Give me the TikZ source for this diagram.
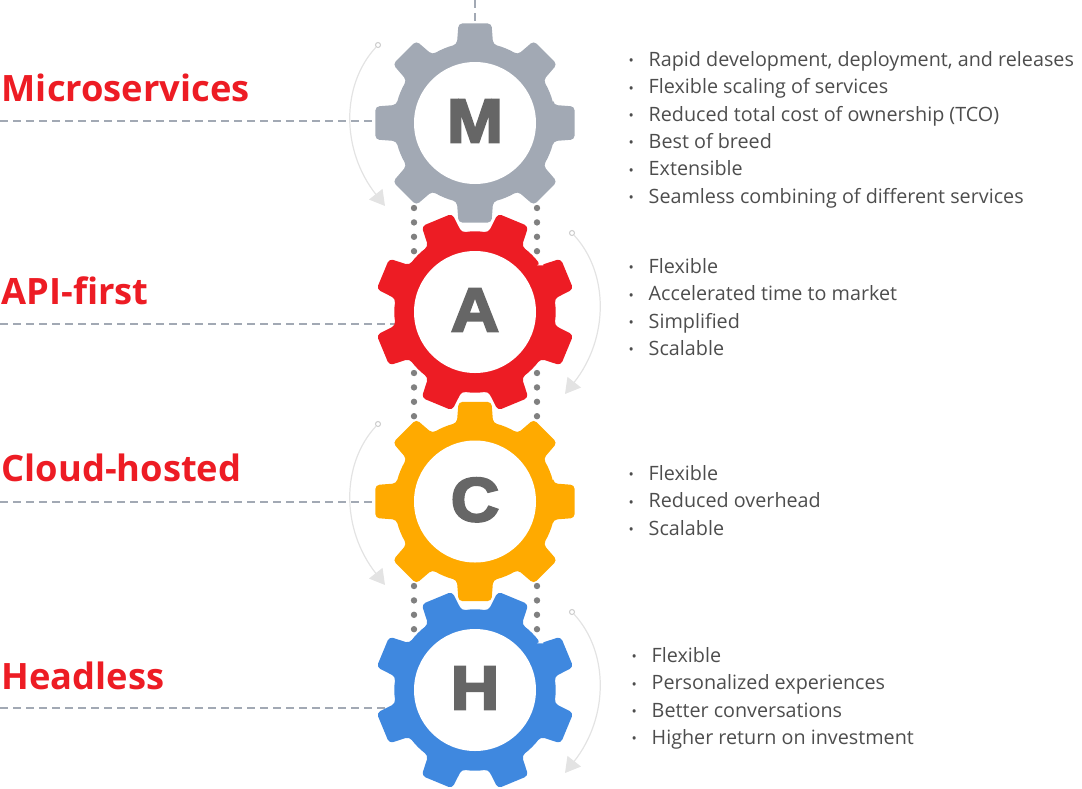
\documentclass[tikz,border=0pt]{standalone}
\usepackage{fontspec}
\usetikzlibrary{arrows.meta}
\setmainfont{Open Sans}
\newfontfamily\lettfont[FakeBold=3.6, FakeStretch=1.08]{Liberation Sans Bold}
\definecolor{gearM}{HTML}{A2A9B4}
\definecolor{gearA}{HTML}{ED1C24}
\definecolor{gearC}{HTML}{FFAA00}
\definecolor{gearH}{HTML}{3F88DF}
\definecolor{textgray}{HTML}{4D4D4D}
\newcommand{\bul}{\makebox[20pt][l]{\raisebox{0.5pt}{\fontsize{14}{14}\selectfont\textbullet}}}
\newcommand{\gear}[5]{
	\fill[#4, rounded corners=4pt, shift={#2}, rotate=#3] (-13:80.5)
		\foreach \a in {0,45,...,315} {
			-- (\a-9.4:101) -- (\a+9.4:101) -- (\a+13:80.5)
			arc[start angle=\a+13, end angle=\a+32, radius=80.5]
		} -- cycle;
	\node[hole] (#1) at #2 {\raisebox{4pt}{#5}};
}
\begin{document}
\begin{tikzpicture}[x=1pt, y=-1pt,
	hole/.style={circle, fill=white, minimum size=122pt, inner sep=0pt,
		text=black!60, font=\lettfont\fontsize{62}{62}\selectfont},
	title/.style={anchor=west, inner sep=0pt, text=gearA,
		font=\bfseries\fontsize{36.3}{36.3}\selectfont},
	items/.style={anchor=north west, inner sep=0pt, align=left, text=textgray,
		font=\fontsize{19.75}{27.4}\selectfont},
	dashline/.style={draw=gearM, line width=1.2pt, dash pattern=on 8pt off 5pt},
	dotline/.style={draw=black!50, line width=6.4pt, line cap=round, dash pattern=on 0pt off 14.4pt},
	turn/.style={draw=black!11, line width=1.2pt, -{Triangle[length=15pt, width=17pt]}},
	start/.style={circle, draw=black!20, fill=white, line width=1pt, minimum size=5pt, inner sep=0pt}]
	\useasboundingbox (0,0) rectangle (1082,788);

	\coordinate (topM) at (475,0);
	\coordinate (topMend) at (475,25);
	\coordinate (leftM) at (0,121);
	\coordinate (leftMend) at (380,121);
	\coordinate (leftA) at (0,324);
	\coordinate (leftAend) at (395,324);
	\coordinate (leftC) at (0,502);
	\coordinate (leftCend) at (378,502);
	\coordinate (leftH) at (0,708);
	\coordinate (leftHend) at (387,708);
	\draw[dashline] (topM) -- (topMend);
	\draw[dashline] (leftM) -- (leftMend);
	\draw[dashline] (leftA) -- (leftAend);
	\draw[dashline] (leftC) -- (leftCend);
	\draw[dashline] (leftH) -- (leftHend);

	\foreach \y in {208,373,586}
		\foreach \x in {414,537}
			\draw[dotline] (\x,\y) -- ++(0,44);

	\gear{letterM}{(475,123)}{0}{gearM}{M}
	\gear{letterA}{(475,312)}{22.5}{gearA}{A}
	\gear{letterC}{(475,501.5)}{0}{gearC}{C}
	\gear{letterH}{(475,690)}{22.5}{gearH}{H}

	\node[title] (titleM) at (1.5,88) {Microservices};
	\node[title] (titleA) at (1.5,291) {API-first};
	\node[title] (titleC) at (1.5,468) {Cloud-hosted};
	\node[title] (titleH) at (1.5,676) {Headless};

	\node[start] (startM) at (378,45) {};
	\node[start] (startA) at (572,233) {};
	\node[start] (startC) at (378,424) {};
	\node[start] (startH) at (572,612) {};
	\coordinate (tipM) at (385,206);
	\coordinate (tipA) at (565,394);
	\coordinate (tipC) at (385,585);
	\coordinate (tipH) at (565,773);
	\draw[turn] (startM) .. controls (341,85) and (341,150) .. (tipM);
	\draw[turn] (startA) .. controls (609,273) and (609,338) .. (tipA);
	\draw[turn] (startC) .. controls (341,464) and (341,529) .. (tipC);
	\draw[turn] (startH) .. controls (609,652) and (609,717) .. (tipH);

	\node[items] (itemsM) at (628.5,51) {\bul Rapid development, deployment, and releases\\
		\bul Flexible scaling of services\\
		\bul Reduced total cost of ownership (TCO)\\
		\bul Best of breed\\
		\bul Extensible\\
		\bul Seamless combining of different services};
	\node[items] (itemsA) at (628.5,258) {\bul Flexible\\
		\bul Accelerated time to market\\
		\bul Simplified\\
		\bul Scalable};
	\node[items] (itemsC) at (628.5,465) {\bul Flexible\\
		\bul Reduced overhead\\
		\bul Scalable};
	\node[items] (itemsH) at (631.5,647) {\bul Flexible\\
		\bul Personalized experiences\\
		\bul Better conversations\\
		\bul Higher return on investment};
\end{tikzpicture}
\end{document}
